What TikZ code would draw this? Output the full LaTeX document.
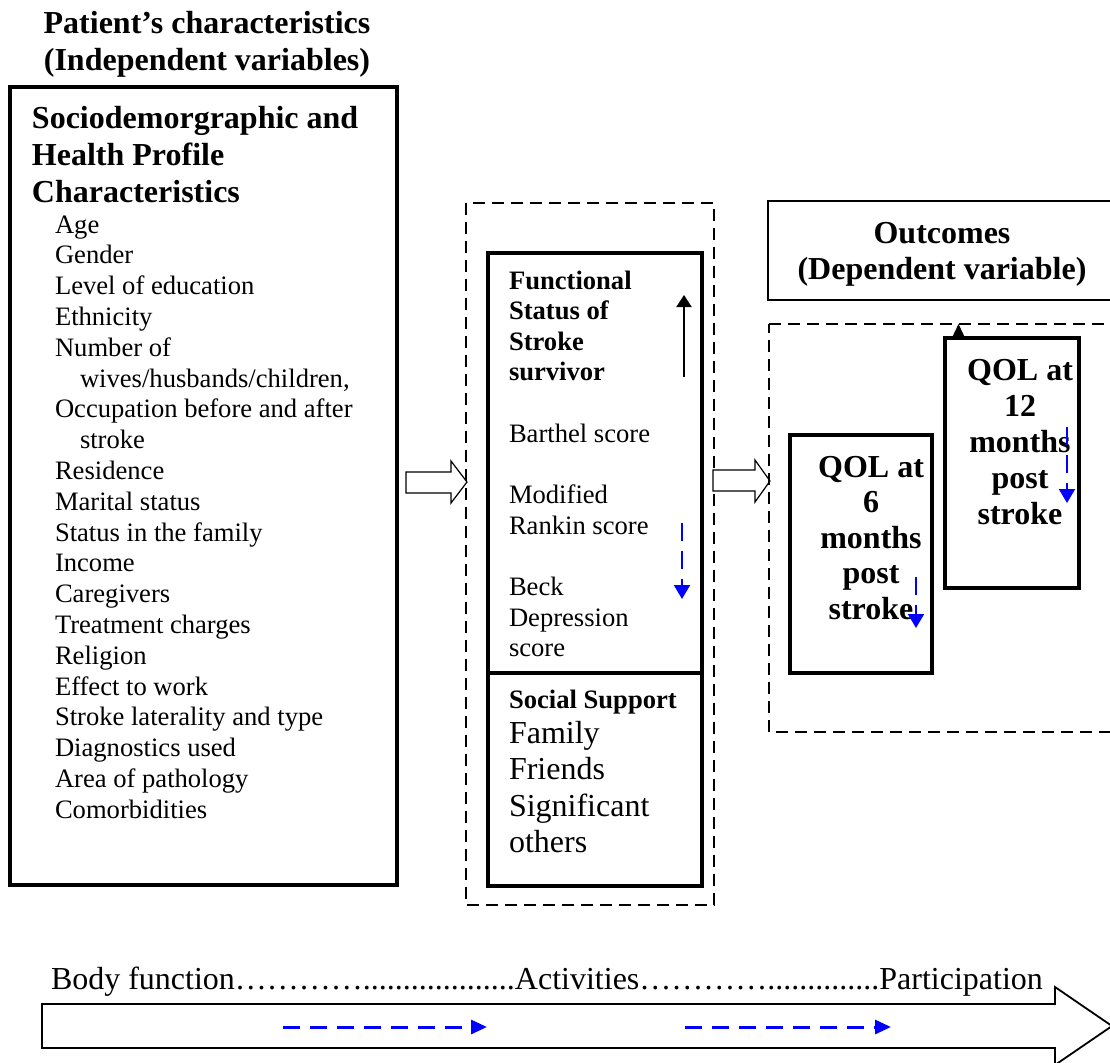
\documentclass[tikz,border=0pt]{standalone}
\usepackage{fontspec}
\setmainfont{Liberation Serif}
\usetikzlibrary{arrows.meta}
% top-aligned stack of lines: the baseline is that of the first line
\newcommand\linestack[2]{\begin{tabular}[t]{@{}#1@{}}#2\end{tabular}}
\begin{document}
\begin{tikzpicture}[x=0.5pt,y=-0.5pt,
  txt/.style={inner sep=0pt, outer sep=0pt},
  heavybox/.style={draw, line width=2pt},
  midbox/.style={draw, line width=1.6pt},
  thinbox/.style={draw, line width=0.85pt},
  dashbox/.style={draw, line width=0.75pt, dash pattern=on 6pt off 3.5pt},
  hollow/.style={draw, line width=0.6pt, fill=white, line join=miter},
  bluedown/.style={draw=blue, line width=1pt, dash pattern=on 9pt off 5pt,
    -{Triangle[length=7pt,width=8pt]}},
  blueright/.style={draw=blue, line width=1.5pt, dash pattern=on 8.5pt off 5pt,
    -{Triangle[length=8pt,width=7pt]}},
  blackup/.style={draw, line width=1pt, -{Triangle[length=6pt,width=7.5pt]}},
]
\useasboundingbox (0,0) rectangle (1110,1062);
\fill[white] (0,0) rectangle (1110,1062);

% ---------- independent variables ----------
\node[txt, anchor=base] (head) at (207,33)
  {\fontsize{16}{18.5}\selectfont\bfseries\linestack{c}{Patient’s characteristics\\(Independent variables)}};

\draw[heavybox] (10,87) rectangle (397,885);
\node[txt, anchor=base west] (sdtitle) at (32,128)
  {\fontsize{16}{18.7}\selectfont\bfseries\linestack{l}{Sociodemorgraphic and\\Health Profile\\Characteristics}};
\node[txt, anchor=base west] (sdlist) at (55,233)
  {\fontsize{13.3}{15.4}\selectfont\linestack{l}{Age\\Gender\\Level of education\\Ethnicity\\Number of\\
  \hspace*{12.5pt}wives/husbands/children,\\Occupation before and after\\\hspace*{12.5pt}stroke\\
  Residence\\Marital status\\Status in the family\\Income\\Caregivers\\Treatment charges\\Religion\\
  Effect to work\\Stroke laterality and type\\Diagnostics used\\Area of pathology\\Comorbidities}};

% ---------- block arrow into the middle group ----------
\draw[hollow] (406,472) -- (451,472) -- (451,461) -- (467,482) -- (451,503) -- (451,493) -- (406,493) -- cycle;

% ---------- functional status and social support ----------
\draw[dashbox] (466,203) rectangle (714,905);
\draw[midbox] (488,253) rectangle (702,886);
\draw[midbox] (488,673) -- (702,673);
\node[txt, anchor=base west] (func) at (509,289)
  {\fontsize{13.3}{15.33}\selectfont\linestack{l}{\textbf{Functional}\\\textbf{Status of}\\\textbf{Stroke}\\\textbf{survivor}\\ \\
  Barthel score\\ \\Modified\\Rankin score\\ \\Beck\\Depression\\score}};
\node[txt, anchor=base west] (socialhead) at (509,708)
  {\fontsize{13.3}{15.33}\selectfont\bfseries Social Support};
\node[txt, anchor=base west] (social) at (509,743)
  {\fontsize{16}{18.3}\selectfont\linestack{l}{Family\\Friends\\Significant\\others}};

\coordinate (upfrom) at (684,377);
\coordinate (upto) at (684,295);
\draw[blackup] (upfrom) -- (upto);
\coordinate (fdfrom) at (682,523);
\coordinate (fdto) at (682,599);
\draw[bluedown] (fdfrom) -- (fdto);

% ---------- block arrow into the outcomes ----------
\draw[hollow] (713,470) -- (755,470) -- (755,460) -- (770,481) -- (755,502) -- (755,491) -- (713,491) -- cycle;

% ---------- outcomes ----------
\draw[thinbox] (768,201) rectangle (1116,300);
\node[txt, anchor=base] (outc) at (942,243)
  {\fontsize{16}{18}\selectfont\bfseries\linestack{c}{Outcomes\\(Dependent variable)}};

\draw[dashbox] (769,324) -- (1130,324);
\draw[dashbox] (1130,732) -- (769,732) -- (769,324);

\draw[midbox] (790,435) rectangle (932,673);
\node[txt, anchor=base] (q6) at (871,477)
  {\fontsize{16}{17.75}\selectfont\bfseries\linestack{c}{QOL at\\6\\months\\post\\stroke}};
\draw[midbox] (945,338) rectangle (1079,588);
\node[txt, anchor=base] (q12) at (1020,380)
  {\fontsize{16}{18}\selectfont\bfseries\linestack{c}{QOL at\\12\\months\\post\\stroke}};

\coordinate (q12top) at (958.5,338);
\coordinate (dashtop) at (958.5,324);
\draw[line width=0.6pt, -{Triangle[length=7pt,width=6.5pt]}] (q12top) -- (dashtop);

\coordinate (q6from) at (916,577);
\coordinate (q6to) at (916,628);
\draw[bluedown] (q6from) -- (q6to);
\coordinate (q12from) at (1067,427);
\coordinate (q12to) at (1067,503);
\draw[bluedown] (q12from) -- (q12to);

% ---------- ICF continuum ----------
\draw[line width=0.9pt, line join=miter] (42,1004) -- (1055,1004) -- (1055,987) -- (1112,1026)
  -- (1055,1065) -- (1055,1048) -- (42,1048) -- cycle;
\node[txt, anchor=base west] (icf) at (51,989)
  {\fontsize{16}{18}\selectfont Body function…………...................Activities…………..............Participation};
\coordinate (b1from) at (283,1027);
\coordinate (b1to) at (487,1027);
\draw[blueright] (b1from) -- (b1to);
\coordinate (b2from) at (685,1027);
\coordinate (b2to) at (891,1027);
\draw[blueright] (b2from) -- (b2to);
\end{tikzpicture}
\end{document}
